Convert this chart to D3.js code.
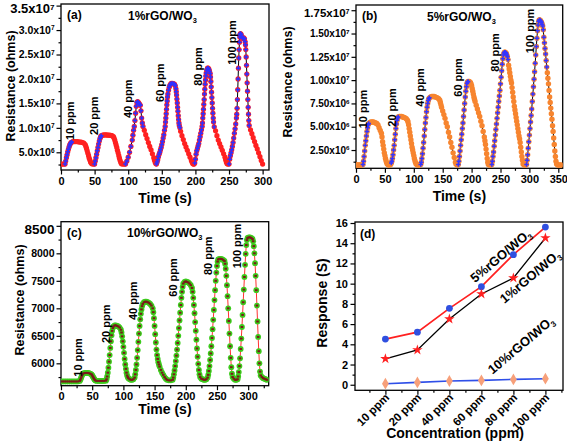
<!DOCTYPE html>
<html><head><meta charset="utf-8">
<script src="https://cdn.jsdelivr.net/npm/d3@7"></script>
<style>
body{margin:0;background:#fff}
svg text{font-family:"Liberation Sans",Arial,sans-serif;font-weight:bold;fill:#000}
</style></head>
<body><svg id="chart" width="567" height="445"></svg>
<script>
// ---------- DATA ----------
// (a) 1% rGO/WO3 : [time s, resistance in 1e6 ohms]
const seriesA = [[0,2.6],[2,2.6],[4,2.6],[6,2.6],[7,3.2],[8,3.9],[9,4.5],[10,5.1],[11,5.6],[12,6.1],[13,6.5],[14,6.8],[15,7.0],[16,7.1],[18,7.2],[20,7.2],[22,7.2],[24,7.2],[26,7.15],[28,7.1],[30,7.1],[32,7.0],[34,6.9],[36,6.6],[37,6.2],[38,5.8],[39,5.3],[40,4.8],[41,4.3],[42,3.8],[43,3.4],[44,3.0],[45,2.8],[46,2.65],[48,2.6],
[50,2.6],[51,3.2],[52,3.9],[53,4.6],[54,5.3],[55,6.0],[56,6.7],[57,7.3],[58,7.8],[59,8.2],[60,8.4],[62,8.5],[64,8.55],[66,8.55],[68,8.55],[70,8.5],[72,8.5],[74,8.45],[76,8.4],[78,8.2],[79,7.9],[80,7.5],[81,7.0],[82,6.5],[83,6.0],[84,5.4],[85,4.9],[86,4.3],[87,3.8],[88,3.3],[89,2.9],[90,2.65],[92,2.6],[94,2.6],
[96,2.6],[98,3.2],[100,4.0],[102,5.0],[104,6.2],[106,7.5],[107,8.5],[108,9.5],[109,10.3],[110,11.5],[111,13.0],[112,14.4],[113,15.2],[114,15.35],[115,15.2],[116,15.0],[117,14.8],[118,14.6],[119,13.5],[120,12.0],[121,11.0],[122,10.3],[124,9.5],[126,8.6],[128,7.8],[130,7.0],[132,6.2],[134,5.5],[136,4.7],[138,3.9],[139,3.4],[140,3.0],[141,2.7],[142,2.6],
[143,3.0],[144,3.5],[145,4.1],[146,4.6],[147,5.0],[148,5.5],[149,6.0],[150,6.6],[151,7.2],[152,7.9],[153,8.6],[154,9.5],[155,10.3],[155.5,11.2],[156,12.0],[156.5,12.9],[157,13.8],[157.5,14.7],[158,15.5],[158.5,16.3],[159,16.9],[160,17.7],[161,18.3],[162,18.7],[163,18.9],[164,19.1],[166,19.1],[168,19.0],[169,18.9],[170,18.6],[171,18.0],[171.5,17.4],[172,16.7],[172.5,15.9],[173,15.1],[173.5,14.2],[174,13.4],[174.5,12.5],[175,11.7],[175.5,11.0],[176,10.5],[177,10.0],[178,9.3],[180,8.4],[182,7.6],[184,6.8],[186,6.1],[188,5.4],[190,4.7],[192,4.0],[194,3.3],[195,3.0],[196,2.7],[197,2.6],[198,2.6],
[199,2.8],[200,3.6],[201,4.6],[202,5.3],[203,5.8],[204,6.3],[205,6.8],[206,7.5],[207,8.2],[208,8.9],[209,9.6],[210,10.3],[210.5,11.0],[211,12.0],[211.5,12.9],[212,13.8],[212.5,14.8],[213,15.8],[213.5,16.9],[214,17.9],[214.5,18.9],[215,19.8],[215.5,20.6],[216,21.2],[217,21.8],[218,22.2],[219,22.2],[220,22.0],[221,21.6],[222,21.1],[222.5,20.4],[223,19.5],[223.5,18.4],[224,17.3],[224.5,16.2],[225,15.1],[225.5,14.0],[226,13.0],[226.5,12.0],[227,11.2],[228,10.2],[230,9.4],[232,8.4],[234,7.5],[236,6.8],[238,6.1],[240,5.4],[242,4.7],[244,4.0],[245,3.5],[246,3.0],[247,2.7],[248,2.6],[250,2.6],
[251,3.6],[252,4.3],[253,4.9],[254,5.5],[255,6.2],[256,7.0],[257,7.9],[258,8.9],[259,9.8],[260,10.8],[261,12.0],[261.5,12.8],[262,14.0],[262.5,15.8],[263,17.8],[263.5,20.0],[264,22.2],[264.5,24.3],[265,26.0],[265.5,27.5],[266,28.6],[266.5,29.1],[267,29.3],[268,29.1],[269,28.7],[270,28.3],[271,28.3],[272,28.4],[273,28.2],[274,27.6],[274.5,27.0],[275,26.0],[275.5,24.5],[276,22.8],[276.5,21.0],[277,19.2],[277.5,17.5],[278,15.8],[278.5,14.2],[279,12.8],[279.5,11.5],[280,10.5],[282,9.6],[284,8.8],[286,8.0],[288,7.2],[290,6.4],[292,5.7],[294,4.9],[296,4.1],[298,3.3],[300,2.6]];
const exposureA = [[6,16],[50,60],[96,122],[142,177],[199,228],[250,280]];

// (b) 5% rGO/WO3 : [time s, resistance in 1e6 ohms]
const seriesB = [[0,0.9],[2,0.9],[4,0.9],[6,0.9],[8,0.9],[10,0.9],[12,0.95],[13,1.3],[14,1.8],[15,2.4],[16,3.0],[17,3.5],[18,4.0],[19,4.5],[20,4.9],[21,5.2],[22,5.35],[24,5.45],[26,5.5],[28,5.5],[30,5.5],[32,5.45],[34,5.4],[36,5.35],[38,5.2],[40,4.9],[42,4.6],[44,4.3],[45,3.9],[46,3.4],[47,3.0],[48,2.6],[49,2.2],[50,1.9],[51,1.6],[52,1.35],[53,1.15],[54,1.0],[56,0.9],[58,0.9],[60,0.95],[61,1.1],[62,1.3],
[63,1.6],[64,2.0],[65,2.5],[66,3.0],[67,3.6],[68,4.2],[69,4.8],[70,5.3],[71,5.7],[72,5.95],[73,6.05],[75,6.1],[77,6.1],[79,6.1],[81,6.05],[83,6.0],[85,5.95],[87,5.85],[89,5.7],[90,5.5],[91,5.2],[92,4.8],[93,4.4],[94,4.0],[95,3.6],[96,3.2],[97,2.8],[98,2.5],[99,2.2],[100,1.9],[101,1.6],[102,1.35],[103,1.15],[104,1.0],[106,0.9],[108,0.9],[110,0.9],[112,0.95],
[113,1.2],[114,1.6],[115,2.1],[116,2.7],[117,3.3],[118,4.0],[119,4.7],[120,5.4],[121,6.0],[122,6.6],[123,7.1],[124,7.5],[125,7.8],[126,8.0],[127,8.1],[129,8.2],[131,8.25],[133,8.25],[135,8.25],[137,8.2],[139,8.15],[141,8.1],[143,8.0],[145,7.85],[146,7.6],[147,7.35],[148,7.1],[150,6.7],[152,6.3],[154,5.9],[156,5.4],[158,5.0],[160,4.4],[162,3.9],[164,3.3],[166,2.8],[168,2.2],[170,1.7],[172,1.2],[173,1.0],[175,0.9],[177,0.95],
[178,1.3],[179,1.8],[180,2.4],[181,3.0],[182,3.6],[183,4.2],[184,4.8],[185,5.4],[186,6.1],[187,6.8],[188,7.5],[189,8.2],[190,8.8],[191,9.3],[192,9.65],[193,9.8],[194,9.85],[196,9.85],[198,9.75],[199,9.6],[200,9.4],[201,9.1],[202,8.8],[203,8.5],[204,8.2],[205,7.95],[206,7.7],[208,7.3],[210,6.9],[212,6.5],[214,6.1],[216,5.6],[218,5.1],[220,4.5],[222,3.9],[223,3.5],[224,3.1],[225,2.6],[226,2.1],[227,1.6],[228,1.2],[229,0.95],[231,0.9],[233,0.9],[235,0.95],
[236,1.3],[237,1.8],[238,2.3],[239,2.9],[240,3.5],[241,4.1],[242,4.7],[243,5.3],[244,5.9],[245,6.5],[246,7.1],[247,7.7],[248,8.3],[249,8.9],[250,9.6],[251,10.3],[252,11.0],[253,11.7],[254,12.3],[255,12.7],[256,12.9],[257,13.0],[258,13.0],[259,12.95],[260,12.85],[261,12.7],[262,12.5],[263,12.2],[264,11.6],[265,11.2],[266,10.8],[267,10.4],[268,10.0],[269,9.7],[270,9.2],[271,8.7],[272,8.2],[273,7.7],[274,7.2],[275,6.8],[276,6.4],[277,6.0],[278,5.6],[279,5.2],[280,4.8],[281,4.4],[282,4.0],[283,3.7],[284,3.3],[285,2.8],[286,2.3],[287,1.8],[288,1.4],[289,1.0],[291,0.9],[293,0.9],[295,0.95],
[296,1.4],[297,2.0],[298,2.7],[299,3.4],[300,4.1],[301,4.8],[302,5.5],[303,6.2],[304,6.9],[305,7.7],[306,8.5],[307,9.3],[308,10.1],[309,10.9],[310,11.8],[311,12.7],[312,13.6],[313,14.5],[314,15.3],[315,15.9],[316,16.3],[317,16.45],[318,16.45],[319,16.4],[320,16.3],[321,16.2],[322,16.0],[323,15.8],[324,15.4],[325,14.6],[326,14.0],[327,13.4],[328,12.8],[329,12.1],[330,11.4],[331,10.8],[332,10.2],[333,9.6],[334,8.9],[335,8.2],[336,7.6],[337,7.0],[338,6.4],[339,5.8],[340,5.1],[341,4.5],[342,3.8],[343,3.1],[344,2.4],[345,1.8],[346,1.3],[347,1.0],[349,0.9],[351,0.9],[353,0.9],[355,0.9]];
const exposureB = [[12,22],[61,73],[112,127],[177,194],[235,263],[295,330]];

// (c) 10% rGO/WO3 : [time s, resistance ohms]
const seriesC = [[0,5670],[3,5670],[6,5670],[9,5670],[12,5670],[15,5670],[18,5670],[21,5670],[24,5670],[27,5670],[30,5680],[31,5700],[32,5730],[33,5760],[34,5790],[35,5810],[37,5820],[39,5825],[41,5825],[43,5825],[45,5820],[47,5810],[49,5800],[50,5780],[51,5760],[52,5740],[53,5720],[54,5700],[55,5690],[57,5680],[60,5680],[63,5680],[66,5680],[69,5680],[72,5685],
[73,5710],[74,5760],[75,5830],[76,5920],[77,6030],[78,6150],[79,6280],[80,6400],[81,6510],[82,6590],[83,6640],[84,6670],[86,6690],[88,6690],[90,6680],[92,6670],[94,6650],[96,6610],[97,6560],[98,6490],[99,6400],[100,6300],[101,6190],[102,6080],[103,5980],[104,5900],[105,5830],[106,5780],[107,5750],[108,5730],[110,5710],[112,5700],[114,5700],[116,5710],[118,5740],
[119,5800],[120,5880],[121,5980],[122,6100],[123,6240],[124,6390],[125,6540],[126,6680],[127,6800],[128,6900],[129,6980],[130,7040],[131,7080],[133,7110],[135,7120],[137,7120],[139,7110],[141,7100],[143,7080],[145,7050],[147,7000],[148,6930],[149,6820],[150,6680],[151,6530],[152,6380],[153,6250],[154,6150],[155,6080],[156,6020],[157,5980],[158,5940],[160,5880],[162,5830],[164,5790],[166,5750],[168,5720],[170,5700],[173,5690],[176,5690],[179,5700],
[180,5740],[181,5800],[182,5870],[183,5950],[184,6040],[185,6140],[186,6250],[187,6370],[188,6500],[189,6640],[190,6780],[191,6920],[192,7060],[193,7190],[194,7300],[195,7390],[196,7450],[198,7480],[200,7490],[202,7480],[204,7470],[206,7450],[208,7420],[210,7370],[211,7300],[212,7190],[213,7060],[214,6910],[215,6750],[216,6590],[217,6430],[218,6270],[219,6120],[220,5990],[221,5880],[222,5800],[223,5750],[225,5720],[227,5710],[229,5700],[231,5700],[233,5710],[235,5740],
[236,5790],[237,5860],[238,5950],[239,6060],[240,6180],[241,6310],[242,6460],[243,6620],[244,6790],[245,6970],[246,7150],[247,7330],[248,7500],[249,7650],[250,7770],[251,7850],[252,7890],[254,7900],[256,7900],[258,7895],[260,7880],[262,7860],[263,7810],[264,7720],[265,7590],[266,7420],[267,7220],[268,7000],[269,6770],[270,6540],[271,6310],[272,6100],[273,5930],[274,5810],[275,5750],[277,5720],[279,5700],[281,5700],[283,5710],
[284,5760],[285,5840],[286,5950],[287,6090],[288,6260],[289,6450],[290,6660],[291,6880],[292,7110],[293,7340],[294,7570],[295,7790],[296,7990],[297,8150],[298,8240],[299,8280],[301,8290],[303,8290],[305,8280],[307,8260],[308,8220],[309,8130],[310,8000],[311,7820],[312,7590],[313,7330],[314,7050],[315,6760],[316,6480],[317,6220],[318,6000],[319,5850],[320,5780],[322,5750],[324,5730],[326,5720],[328,5710],[330,5700]];

// peak annotations (text, [time, resistance])
const peakLabels = ["10 ppm","20 ppm","40 ppm","60 ppm","80 ppm","100 ppm"];
const peakPosA = [[13.4,7.5],[49.6,8.54],[99.3,12.0],[147.3,15.3],[203.4,18.6],[254.9,22.9]];
const peakPosB = [[12.6,4.83],[61.8,5.0],[110.7,7.15],[177,8.22],[240.5,10.9],[301,12.88]];
const peakPosC = [[27.7,5756],[72.1,6369],[114.9,6787],[180,7211],[236,7605],[282.5,7727]];

// (d) response vs concentration
const concentrations = ["10 ppm","20 ppm","40 ppm","60 ppm","80 ppm","100 ppm"];
const resp5 = [4.52,5.2,7.56,9.7,12.87,15.6];
const resp1 = [2.57,3.44,6.5,8.98,10.56,14.52];
const resp10 = [0.1,0.23,0.37,0.43,0.53,0.6];
const seriesNamesD = ["5%rGO/WO","1%rGO/WO","10%rGO/WO"];
const namePosD = [[3.6,12.76],[4.52,10.7],[4.23,3.93]];

// ---------- DRAW ----------
const svg = d3.select("#chart");
const FONT = '"Liberation Sans",Arial,sans-serif';

function sciLabel(sel, digits){
  sel.each(function(d){
    const v = d;
    const e = Math.floor(Math.log10(v) + 1e-9);
    const m = (v/Math.pow(10,e)).toFixed(digits);
    const t = d3.select(this); t.text(null);
    t.append("tspan").text(m + "x10");
    t.append("tspan").attr("dy",-3.5).attr("font-size","0.62em").text(e);
  });
}

function styleAxis(g, size){
  g.select(".domain").remove();
  g.attr("font-family", FONT).attr("font-size", size).attr("font-weight","bold");
  g.selectAll(".tick line").attr("stroke","#000").attr("stroke-width",1.2);
}

function addTitleWithSub(x, y, main, sub, size){
  const t = svg.append("text").attr("x",x).attr("y",y).attr("font-size",size);
  t.append("tspan").text(main);
  t.append("tspan").attr("font-size",size*0.62).attr("dy",3).text(sub);
  return t;
}

function timePanel(o){
  const x = d3.scaleLinear().domain(o.xDom).range([o.L,o.R]);
  const y = d3.scaleLinear().domain(o.yDom).range([o.B,o.T]);
  const g = svg.append("g");
  g.append("g").attr("transform",`translate(0,${o.B})`)
    .call(d3.axisBottom(x).tickValues(o.xMinor).tickSize(2.5).tickFormat(""))
    .call(s=>styleAxis(s,11));
  g.append("g").attr("transform",`translate(0,${o.B})`)
    .call(d3.axisBottom(x).tickValues(o.xMajor).tickSize(4.5).tickPadding(2.5).tickFormat(d3.format("d")))
    .call(s=>styleAxis(s,o.xFont));
  g.append("g").attr("transform",`translate(${o.L},0)`)
    .call(d3.axisLeft(y).tickValues(o.yMinor).tickSize(2.5).tickFormat(""))
    .call(s=>styleAxis(s,11));
  const ya = g.append("g").attr("transform",`translate(${o.L},0)`)
    .call(d3.axisLeft(y).tickValues(o.yMajor).tickSize(4.5).tickPadding(2))
    .call(s=>styleAxis(s,o.yFont));
  if (o.sci !== undefined) ya.selectAll(".tick text").data(o.yMajor.map(v=>v*o.unit)).call(s=>sciLabel(s,o.sci));
  else ya.selectAll(".tick text").text(d=>d3.format("d")(d));
  // the topmost label is printed larger in the original figure
  const last = o.yMajor[o.yMajor.length-1];
  ya.selectAll(".tick").filter(d=>d===last || d===last*o.unit).select("text")
    .attr("font-size",o.topFont).attr("dy","0.55em");
  g.append("rect").attr("x",o.L).attr("y",o.T).attr("width",o.R-o.L).attr("height",o.B-o.T)
    .attr("fill","none").attr("stroke","#000").attr("stroke-width",1.3);
  const line = d3.line().x(d=>x(d[0])).y(d=>y(d[1]));
  const clipId = "clip"+o.id;
  g.append("clipPath").attr("id",clipId).append("rect").attr("x",o.L).attr("y",o.T).attr("width",o.R-o.L).attr("height",o.B-o.T);
  const dg = g.append("g").attr("clip-path",`url(#${clipId})`);
  dg.append("path").datum(o.data).attr("d",line).attr("fill","none").attr("stroke",o.lineColor).attr("stroke-width",1);
  dg.selectAll("circle.m").data(o.data).join("circle").attr("class","m")
    .attr("cx",d=>x(d[0])).attr("cy",d=>y(d[1])).attr("r",o.r).attr("fill",o.markColor);
  const inner = o.exposure ? o.data.filter(d=>o.exposure.some(w=>d[0]>=w[0]&&d[0]<=w[1])) : o.data;
  if (o.innerShape === "cross") {
    dg.selectAll("path.in").data(inner).join("path").attr("class","in")
      .attr("transform",d=>`translate(${x(d[0])},${y(d[1])})`)
      .attr("d",d3.symbol(d3.symbolCross,11)).attr("fill",o.innerColor);
  } else {
    dg.selectAll("rect.in").data(inner).join("rect").attr("class","in")
      .attr("x",d=>x(d[0])-1.3).attr("y",d=>y(d[1])-1).attr("width",2.6).attr("height",2)
      .attr("fill",o.innerColor);
  }
  g.selectAll("text.pk").data(o.peakPos).join("text").attr("class","pk")
    .attr("transform",d=>`translate(${x(d[0])},${y(d[1])}) rotate(-90)`)
    .attr("dy","0.35em").attr("font-size",11).text((d,i)=>peakLabels[i]);
  svg.append("text").attr("x",(o.L+o.R)/2).attr("y",o.xTitleY).attr("text-anchor","middle").attr("font-size",14).text("Time (s)");
  svg.append("text").attr("transform",`translate(${o.yTitleX},${o.yTitleY}) rotate(-90)`)
    .attr("text-anchor","middle").attr("dy","0.35em").attr("font-size",12.5).text("Resistance (ohms)");
  svg.append("text").attr("x",o.L+6).attr("y",o.T+15).attr("font-size",12).text(o.tag);
  addTitleWithSub(o.nameX, o.T+15.5, o.name, "3", 12);
}

timePanel({id:"a",L:61,R:269,T:4,B:170,xDom:[0,309.5],yDom:[1.38,35.33],
  xMajor:d3.range(0,301,50),xMinor:d3.range(25,301,50),yMajor:d3.range(5,36,5),yMinor:d3.range(2.5,35,5),
  unit:1e6,sci:1,xFont:11,yFont:10.5,topFont:13,data:seriesA,exposure:exposureA,r:2.6,markColor:"#ff2020",innerColor:"#3030ff",innerShape:"cross",lineColor:"#000",
  peakPos:peakPosA,xTitleY:203,yTitleX:11,yTitleY:86,tag:"(a)",name:"1%rGO/WO",nameX:128});

timePanel({id:"b",L:356,R:562.7,T:5,B:168.3,xDom:[0,357.6],yDom:[0.54,18.06],
  xMajor:d3.range(0,351,50),xMinor:d3.range(25,351,50),yMajor:[2.5,5,7.5,10,12.5,15,17.5],yMinor:[1.25,3.75,6.25,8.75,11.25,13.75,16.25],
  unit:1e6,sci:2,xFont:11,yFont:10,topFont:11.5,data:seriesB,exposure:exposureB,r:2.7,markColor:"#f7852f",innerColor:"#3535ff",innerShape:"cross",lineColor:"#000",
  peakPos:peakPosB,xTitleY:201,yTitleX:288,yTitleY:82,tag:"(b)",name:"5%rGO/WO",nameX:427});

timePanel({id:"c",L:61,R:268.7,T:221.7,B:385.7,xDom:[0,332.9],yDom:[5593,8575],
  xMajor:d3.range(0,301,50),xMinor:d3.range(25,326,50),yMajor:d3.range(6000,8501,500),yMinor:d3.range(5750,8501,500),
  unit:1,xFont:11,yFont:10.5,topFont:13.5,data:seriesC,r:2.9,markColor:"#3ccb1c",innerColor:"#7a1a1a",innerShape:"rect",lineColor:"#ff3030",
  peakPos:peakPosC,xTitleY:414,yTitleX:20,yTitleY:300,tag:"(c)",name:"10%rGO/WO",nameX:127});

// ---------- panel (d) ----------
(function(){
  const L=355,R=563,T=222,B=390.3;
  const x = d3.scaleLinear().domain([-0.95,5.55]).range([L,R]);
  const y = d3.scaleLinear().domain([-0.55,16.1]).range([B,T]);
  const g = svg.append("g");
  g.append("g").attr("transform",`translate(0,${B})`)
    .call(d3.axisBottom(x).tickValues(d3.range(-0.5,5.6,1)).tickSize(2.5).tickFormat("")).call(s=>styleAxis(s,11));
  const xa = g.append("g").attr("transform",`translate(0,${B})`)
    .call(d3.axisBottom(x).tickValues(d3.range(0,6)).tickSize(4.5).tickFormat(i=>concentrations[i])).call(s=>styleAxis(s,11.5));
  xa.selectAll(".tick text").attr("text-anchor","end").attr("dy",null).attr("y",null)
    .attr("transform","translate(4,8) rotate(-45)");
  g.append("g").attr("transform",`translate(${L},0)`)
    .call(d3.axisLeft(y).tickValues(d3.range(1,16,2)).tickSize(2.5).tickFormat("")).call(s=>styleAxis(s,11));
  g.append("g").attr("transform",`translate(${L},0)`)
    .call(d3.axisLeft(y).tickValues(d3.range(0,17,2)).tickSize(4.5).tickPadding(2.5).tickFormat(d3.format("d"))).call(s=>styleAxis(s,11));
  g.append("rect").attr("x",L).attr("y",T).attr("width",R-L).attr("height",B-T)
    .attr("fill","none").attr("stroke","#000").attr("stroke-width",1.3);
  const line = d3.line().x((d,i)=>x(i)).y(d=>y(d));
  g.append("path").datum(resp5).attr("d",line).attr("fill","none").attr("stroke","#ff2020").attr("stroke-width",1.7);
  g.append("path").datum(resp1).attr("d",line).attr("fill","none").attr("stroke","#000").attr("stroke-width",1.3);
  g.append("path").datum(resp10).attr("d",line).attr("fill","none").attr("stroke","#2f4fe8").attr("stroke-width",1.6);
  g.selectAll("circle.r5").data(resp5).join("circle").attr("class","r5")
    .attr("cx",(d,i)=>x(i)).attr("cy",d=>y(d)).attr("r",3.4).attr("fill","#2f4fe0");
  g.selectAll("path.r1").data(resp1).join("path").attr("class","r1")
    .attr("transform",(d,i)=>`translate(${x(i)},${y(d)})`).attr("d",d3.symbol(d3.symbolStar,34)).attr("fill","#ff2020");
  g.selectAll("path.r10").data(resp10).join("path").attr("class","r10")
    .attr("transform",(d,i)=>`translate(${x(i)},${y(d)})`).attr("d",d3.symbol(d3.symbolDiamond,40)).attr("fill","#f7a07a");
  namePosD.forEach((p,i)=>{
    const t = svg.append("text").attr("transform",`translate(${x(p[0])},${y(p[1])}) rotate(-40)`)
      .attr("text-anchor","middle").attr("dy","0.35em").attr("font-size",13);
    t.append("tspan").text(seriesNamesD[i]);
    t.append("tspan").attr("font-size",8).attr("dy",3).text("3");
  });
  svg.append("text").attr("x",(L+R)/2-4).attr("y",438).attr("text-anchor","middle").attr("font-size",14).text("Concentration (ppm)");
  svg.append("text").attr("transform",`translate(322,303) rotate(-90)`).attr("text-anchor","middle").attr("dy","0.35em").attr("font-size",14).text("Response (S)");
  svg.append("text").attr("x",L+5).attr("y",T+16).attr("font-size",12).text("(d)");
})();
</script></body></html>
